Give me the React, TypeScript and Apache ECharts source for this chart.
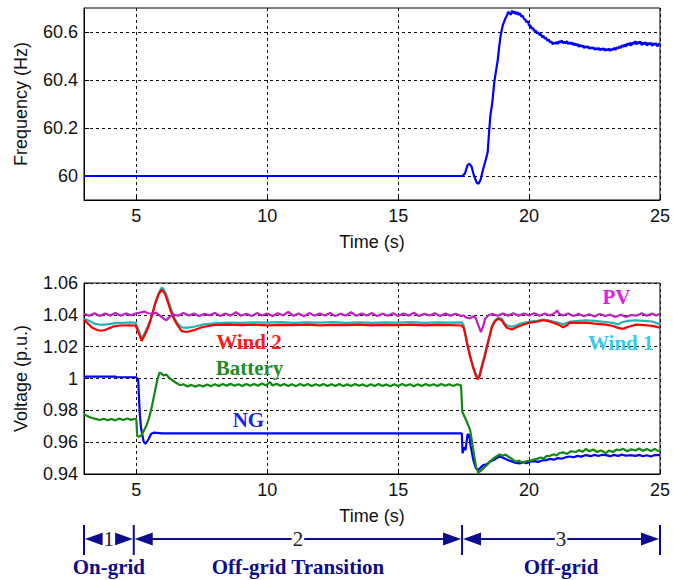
import React, { useEffect, useRef } from "react";
import * as echarts from "echarts";

// ---------- tick values ----------
const timeTicks = [5, 10, 15, 20, 25];
const freqTicks = [60, 60.2, 60.4, 60.6];
const voltTicks = [0.94, 0.96, 0.98, 1, 1.02, 1.04, 1.06];

// ---------- frequency (Hz) ----------
const frequency: [number, number][] = [
  [3, 60], [17.45, 60], [17.55, 60.01], [17.65, 60.045], [17.72, 60.051], [17.8, 60.04], [17.9, 60.0],
  [18.0, 59.972], [18.07, 59.968], [18.15, 59.985], [18.25, 60.03], [18.35, 60.07], [18.42, 60.1],
  [18.47, 60.18], [18.52, 60.25], [18.6, 60.31], [18.67, 60.39], [18.74, 60.44], [18.8, 60.48],
  [18.86, 60.54], [18.92, 60.59], [19.0, 60.63], [19.09, 60.655], [19.16, 60.67], [19.2, 60.684],
  [19.3, 60.672], [19.35, 60.689], [19.4, 60.678], [19.45, 60.686], [19.5, 60.674], [19.55, 60.683],
  [19.6, 60.671], [19.65, 60.679], [19.7, 60.664], [19.75, 60.668], [19.8, 60.656], [19.85, 60.652],
  [19.9, 60.641], [19.95, 60.645], [20.0, 60.626], [20.05, 60.628], [20.1, 60.613], [20.15, 60.617],
  [20.2, 60.604], [20.25, 60.606], [20.3, 60.594], [20.35, 60.599], [20.4, 60.587], [20.45, 60.592],
  [20.5, 60.578], [20.55, 60.584], [20.6, 60.572], [20.65, 60.576], [20.7, 60.563], [20.75, 60.569],
  [20.8, 60.556], [20.85, 60.561], [20.9, 60.549], [20.95, 60.556], [21.0, 60.551], [21.05, 60.559],
  [21.1, 60.55], [21.15, 60.561], [21.2, 60.556], [21.25, 60.565], [21.3, 60.553], [21.35, 60.56],
  [21.4, 60.552], [21.45, 60.562], [21.5, 60.549], [21.55, 60.557], [21.6, 60.55], [21.65, 60.556],
  [21.7, 60.545], [21.75, 60.553], [21.8, 60.544], [21.85, 60.55], [21.9, 60.538], [21.95, 60.546],
  [22.0, 60.539], [22.05, 60.544], [22.1, 60.533], [22.15, 60.541], [22.2, 60.535], [22.25, 60.54],
  [22.3, 60.53], [22.35, 60.537], [22.4, 60.531], [22.45, 60.537], [22.5, 60.526], [22.55, 60.533],
  [22.6, 60.527], [22.65, 60.534], [22.7, 60.524], [22.75, 60.531], [22.8, 60.526], [22.85, 60.532],
  [22.9, 60.522], [22.95, 60.529], [23.0, 60.524], [23.05, 60.531], [23.1, 60.521], [23.15, 60.529],
  [23.2, 60.526], [23.25, 60.534], [23.3, 60.525], [23.35, 60.536], [23.4, 60.531], [23.45, 60.54],
  [23.5, 60.533], [23.55, 60.545], [23.6, 60.538], [23.65, 60.548], [23.7, 60.539], [23.75, 60.553],
  [23.8, 60.545], [23.85, 60.555], [23.9, 60.543], [23.95, 60.557], [24.0, 60.55], [24.05, 60.562],
  [24.1, 60.548], [24.15, 60.559], [24.2, 60.552], [24.25, 60.561], [24.3, 60.545], [24.35, 60.556],
  [24.4, 60.549], [24.45, 60.558], [24.5, 60.543], [24.55, 60.555], [24.6, 60.547], [24.65, 60.556],
  [24.7, 60.542], [24.75, 60.553], [24.8, 60.546], [24.85, 60.554], [24.9, 60.54], [24.95, 60.551],
  [25.0, 60.546],
];

// ---------- voltages (p.u.) ----------
const pv: [number, number][] = [
  [3, 1.0407], [3.2, 1.0394], [3.4, 1.041], [3.6, 1.0393], [3.8, 1.0408], [4.0, 1.0396], [4.2, 1.0412],
  [4.4, 1.0394], [4.6, 1.0409], [4.8, 1.0397], [5.0, 1.041], [5.15, 1.0414], [5.3, 1.0421], [5.45, 1.041],
  [5.6, 1.0407], [5.75, 1.0414], [5.9, 1.0395], [6.05, 1.0375], [6.15, 1.0366], [6.25, 1.0385],
  [6.4, 1.0403], [6.6, 1.0394], [6.8, 1.0411], [7.0, 1.0396], [7.2, 1.0409], [7.4, 1.0393], [7.6, 1.0406],
  [7.8, 1.0397], [8.0, 1.0412], [8.2, 1.0392], [8.4, 1.0408], [8.6, 1.0395], [8.8, 1.0416], [9.0, 1.0394],
  [9.2, 1.0407], [9.4, 1.0392], [9.6, 1.0411], [9.8, 1.0396], [10.0, 1.0409], [10.2, 1.0393], [10.4, 1.041],
  [10.6, 1.0397], [10.8, 1.0418], [11.0, 1.0394], [11.2, 1.0408], [11.4, 1.0391], [11.6, 1.0411],
  [11.8, 1.0395], [12.0, 1.0409], [12.2, 1.0396], [12.4, 1.0412], [12.6, 1.0392], [12.8, 1.0407],
  [13.0, 1.0395], [13.2, 1.0416], [13.4, 1.0394], [13.6, 1.0409], [13.8, 1.0396], [14.0, 1.0411],
  [14.2, 1.0392], [14.4, 1.0407], [14.6, 1.0395], [14.8, 1.041], [15.0, 1.0393], [15.2, 1.0409],
  [15.4, 1.0395], [15.6, 1.0413], [15.8, 1.0392], [16.0, 1.0407], [16.2, 1.0396], [16.4, 1.041],
  [16.6, 1.0393], [16.8, 1.0409], [17.0, 1.0395], [17.2, 1.0407], [17.4, 1.0393], [17.5, 1.0396],
  [17.6, 1.0383], [17.75, 1.0378], [17.85, 1.039], [17.95, 1.0384], [18.05, 1.034], [18.16, 1.0292],
  [18.25, 1.033], [18.32, 1.0375], [18.45, 1.0397], [18.6, 1.0405], [18.8, 1.0394], [19.0, 1.0409],
  [19.2, 1.0395], [19.4, 1.041], [19.6, 1.0394], [19.8, 1.0408], [20.0, 1.0396], [20.2, 1.041],
  [20.4, 1.0394], [20.6, 1.0408], [20.8, 1.0396], [21.0, 1.0414], [21.07, 1.0428], [21.15, 1.0407],
  [21.3, 1.0396], [21.5, 1.0408], [21.7, 1.0393], [21.9, 1.0406], [22.1, 1.0391], [22.3, 1.0404],
  [22.5, 1.039], [22.7, 1.0405], [22.9, 1.0393], [23.1, 1.0401], [23.3, 1.0387], [23.5, 1.04],
  [23.7, 1.0386], [23.9, 1.0399], [24.1, 1.0395], [24.3, 1.041], [24.5, 1.0394], [24.7, 1.0408],
  [24.85, 1.0395], [25, 1.0407],
];

const wind1: [number, number][] = [
  [3, 1.0375], [3.2, 1.0362], [3.4, 1.0345], [3.6, 1.0338], [3.8, 1.0338], [4.0, 1.0343], [4.2, 1.0348],
  [4.5, 1.035], [4.8, 1.0352], [4.97, 1.035], [5.08, 1.0305], [5.2, 1.025], [5.32, 1.0285], [5.45, 1.0335],
  [5.55, 1.037], [5.72, 1.0475], [5.85, 1.0535], [5.97, 1.0572], [6.05, 1.056], [6.15, 1.0525],
  [6.3, 1.045], [6.45, 1.038], [6.58, 1.0345], [6.73, 1.0322], [6.9, 1.0318], [7.2, 1.0325],
  [7.5, 1.0338], [8.0, 1.0347], [8.5, 1.0351], [9.0, 1.0349], [9.5, 1.0353], [10, 1.0351], [10.5, 1.0354],
  [11, 1.035], [11.5, 1.0353], [12, 1.0351], [12.5, 1.0354], [13, 1.035], [13.5, 1.0352], [14, 1.0349],
  [14.5, 1.0353], [15, 1.0351], [15.5, 1.0354], [16, 1.035], [16.5, 1.0352], [17, 1.0351], [17.43, 1.0352],
  [17.5, 1.0335], [17.56, 1.0285], [17.65, 1.021], [17.75, 1.0145], [17.85, 1.0085], [17.94, 1.004],
  [18.03, 1.0006], [18.1, 1.002], [18.2, 1.0085], [18.3, 1.0145], [18.39, 1.0205], [18.5, 1.0275],
  [18.58, 1.033], [18.7, 1.0365], [18.83, 1.0382], [18.96, 1.0375], [19.05, 1.035], [19.15, 1.0335],
  [19.34, 1.0325], [19.5, 1.0332], [19.66, 1.0345], [19.85, 1.0352], [20.04, 1.0358], [20.3, 1.0362],
  [20.54, 1.037], [20.75, 1.0365], [20.92, 1.0358], [21.1, 1.0352], [21.3, 1.034], [21.45, 1.035],
  [21.6, 1.0357], [21.9, 1.0362], [22.18, 1.0366], [22.5, 1.0362], [22.94, 1.0355], [23.2, 1.035],
  [23.4, 1.034], [23.57, 1.0355], [23.8, 1.0362], [24.07, 1.0366], [24.4, 1.0362], [24.7, 1.0358],
  [25, 1.034],
];

const wind2: [number, number][] = [
  [3, 1.0368], [3.15, 1.0345], [3.3, 1.032], [3.5, 1.0305], [3.65, 1.03], [3.8, 1.0305], [4.0, 1.0318],
  [4.14, 1.0328], [4.4, 1.0333], [4.7, 1.0334], [4.97, 1.0333], [5.08, 1.029], [5.2, 1.0236], [5.34, 1.028],
  [5.45, 1.032], [5.53, 1.036], [5.72, 1.047], [5.85, 1.053], [5.97, 1.0558], [6.1, 1.053], [6.29, 1.0435],
  [6.42, 1.038], [6.55, 1.034], [6.73, 1.0298], [6.92, 1.0292], [7.17, 1.0302], [7.5, 1.0322],
  [7.93, 1.0335], [8.5, 1.0338], [9, 1.0335], [9.5, 1.0338], [10, 1.0334], [10.5, 1.0337], [11, 1.0335],
  [11.5, 1.0338], [12, 1.0334], [12.5, 1.0337], [13, 1.0335], [13.5, 1.0338], [14, 1.0334], [14.5, 1.0337],
  [15, 1.0335], [15.5, 1.0338], [16, 1.0334], [16.5, 1.0337], [17, 1.0335], [17.43, 1.0333],
  [17.5, 1.0318], [17.56, 1.028], [17.65, 1.0205], [17.75, 1.0135], [17.85, 1.0075], [17.94, 1.0031],
  [18.03, 0.9994], [18.1, 1.001], [18.2, 1.0073], [18.3, 1.0135], [18.39, 1.0198], [18.5, 1.027],
  [18.58, 1.0324], [18.7, 1.036], [18.83, 1.0376], [18.96, 1.0365], [19.05, 1.034], [19.15, 1.0319],
  [19.34, 1.0308], [19.5, 1.032], [19.66, 1.0331], [19.85, 1.0342], [20.04, 1.0351], [20.3, 1.0358],
  [20.54, 1.0366], [20.75, 1.036], [20.92, 1.0351], [21.1, 1.034], [21.3, 1.0322], [21.45, 1.0335],
  [21.55, 1.0351], [21.9, 1.0349], [22.18, 1.0351], [22.5, 1.0345], [22.94, 1.0338], [23.2, 1.033],
  [23.4, 1.0318], [23.57, 1.0312], [23.8, 1.0325], [24.07, 1.0338], [24.4, 1.0335], [24.7, 1.0331],
  [25, 1.032],
];

const battery: [number, number][] = [
  [3, 0.9775], [3.15, 0.9762], [3.3, 0.9752], [3.45, 0.9746], [3.6, 0.9739], [3.75, 0.9747], [3.9, 0.9738],
  [4.05, 0.9746], [4.2, 0.9737], [4.35, 0.9748], [4.5, 0.9739], [4.65, 0.9749], [4.8, 0.974],
  [4.95, 0.9747], [5.0, 0.9742], [5.03, 0.964], [5.1, 0.9634], [5.18, 0.9642], [5.25, 0.966], [5.4, 0.971],
  [5.5, 0.976], [5.6, 0.983], [5.72, 0.9927], [5.8, 0.999], [5.88, 1.0035], [5.95, 1.0032], [6.03, 1.002],
  [6.15, 1.0024], [6.25, 1.0005], [6.35, 0.9992], [6.5, 0.9975], [6.67, 0.9958], [6.8, 0.9964],
  [6.95, 0.995], [7.1, 0.996], [7.25, 0.9948], [7.4, 0.9959], [7.55, 0.995], [7.7, 0.9962], [7.85, 0.9952],
  [8.0, 0.9964], [8.15, 0.9953], [8.3, 0.9965], [8.45, 0.9954], [8.6, 0.9967], [8.75, 0.9955], [8.9, 0.9964],
  [9.05, 0.9953], [9.2, 0.9966], [9.35, 0.9954], [9.5, 0.9965], [9.65, 0.9955], [9.8, 0.9968],
  [9.95, 0.9956], [10.1, 0.9978], [10.2, 0.9956], [10.35, 0.9967], [10.5, 0.9954], [10.65, 0.9965],
  [10.8, 0.9953], [10.95, 0.9964], [11.1, 0.9952], [11.25, 0.9965], [11.4, 0.9954], [11.55, 0.9966],
  [11.7, 0.9953], [11.85, 0.9964], [12.0, 0.9954], [12.15, 0.9966], [12.3, 0.9953], [12.45, 0.9964],
  [12.6, 0.9953], [12.75, 0.9965], [12.9, 0.9952], [13.05, 0.9964], [13.2, 0.9953], [13.35, 0.9965],
  [13.5, 0.9954], [13.65, 0.9963], [13.8, 0.9952], [13.95, 0.9964], [14.1, 0.9953], [14.25, 0.9965],
  [14.4, 0.9953], [14.55, 0.9963], [14.7, 0.9952], [14.85, 0.9964], [15.0, 0.9953], [15.15, 0.9965],
  [15.3, 0.9954], [15.45, 0.9964], [15.6, 0.9952], [15.75, 0.9964], [15.9, 0.9953], [16.05, 0.9965],
  [16.2, 0.9954], [16.35, 0.9964], [16.5, 0.9953], [16.65, 0.9965], [16.8, 0.9954], [16.95, 0.9964],
  [17.1, 0.9953], [17.25, 0.9964], [17.4, 0.9957], [17.45, 0.979], [17.6, 0.9738], [17.75, 0.9676],
  [17.87, 0.955], [17.97, 0.9446], [18.06, 0.9408], [18.15, 0.942], [18.25, 0.9435], [18.38, 0.9455],
  [18.5, 0.9477], [18.62, 0.9495], [18.75, 0.951], [18.88, 0.9522], [19.0, 0.9515], [19.1, 0.9522],
  [19.2, 0.951], [19.32, 0.9498], [19.42, 0.9485], [19.51, 0.9477], [19.62, 0.9484], [19.75, 0.947],
  [19.89, 0.948], [20.0, 0.9482], [20.15, 0.9489], [20.3, 0.9495], [20.45, 0.9504], [20.55, 0.9495],
  [20.66, 0.9512], [20.8, 0.9514], [20.95, 0.9524], [21.05, 0.9516], [21.16, 0.9532], [21.3, 0.9536],
  [21.45, 0.9526], [21.6, 0.9543], [21.79, 0.9538], [21.9, 0.955], [22.05, 0.954], [22.17, 0.9558],
  [22.3, 0.9543], [22.45, 0.9554], [22.6, 0.9538], [22.75, 0.9548], [22.93, 0.9531], [23.05, 0.9547],
  [23.2, 0.9538], [23.35, 0.9554], [23.44, 0.9549], [23.6, 0.9558], [23.75, 0.9543], [23.9, 0.9555],
  [24.07, 0.9548], [24.2, 0.956], [24.35, 0.9546], [24.5, 0.9557], [24.65, 0.9544], [24.8, 0.9558],
  [24.9, 0.9547], [25, 0.9546],
];

const ng: [number, number][] = [
  [3, 1.0012], [4.2, 1.0012], [4.25, 1.0008], [5.0, 1.0008], [5.07, 0.999], [5.13, 0.978], [5.18, 0.9687],
  [5.28, 0.9602], [5.35, 0.959], [5.47, 0.962], [5.56, 0.9651], [5.66, 0.966], [6, 0.9655], [17.43, 0.9655],
  [17.46, 0.953], [17.52, 0.957], [17.57, 0.955], [17.65, 0.9649], [17.71, 0.9645], [17.77, 0.9575],
  [17.87, 0.9488], [17.97, 0.9435], [18.06, 0.9425], [18.15, 0.944], [18.25, 0.9456], [18.38, 0.946],
  [18.5, 0.9477], [18.65, 0.9488], [18.75, 0.9498], [18.88, 0.951], [19.0, 0.9502], [19.1, 0.9495],
  [19.2, 0.9487], [19.35, 0.9478], [19.5, 0.947], [19.64, 0.9467], [19.8, 0.9474], [19.9, 0.9468],
  [20.04, 0.9477], [20.2, 0.9481], [20.35, 0.9476], [20.5, 0.9485], [20.66, 0.9487], [20.8, 0.9495],
  [20.95, 0.949], [21.1, 0.95], [21.25, 0.9496], [21.4, 0.9505], [21.55, 0.951], [21.7, 0.9505],
  [21.85, 0.9514], [22.0, 0.9509], [22.17, 0.9519], [22.35, 0.9512], [22.5, 0.952], [22.65, 0.9513],
  [22.8, 0.9521], [22.93, 0.9519], [23.1, 0.9512], [23.25, 0.952], [23.4, 0.9514], [23.55, 0.9522],
  [23.7, 0.9515], [23.85, 0.9518], [24.07, 0.9514], [24.2, 0.952], [24.35, 0.9512], [24.5, 0.9518],
  [24.65, 0.951], [24.8, 0.9519], [25, 0.9518],
];

// ---------- curve labels (data coordinates) ----------
const curveLabels = [
  { text: "PV", t: 23.34, v: 1.051, color: "#e020e0" },
  { text: "Wind 2", t: 9.3, v: 1.0228, color: "#ff1a1a" },
  { text: "Wind 1", t: 23.5, v: 1.0221, color: "#33ccee" },
  { text: "Battery", t: 9.32, v: 1.0065, color: "#228b22" },
  { text: "NG", t: 9.28, v: 0.9739, color: "#2020ee" },
];

// ---------- operating phases ----------
const phaseBounds = [3, 4.9, 17.44, 25];
const phaseNumbers = ["1", "2", "3"];
const phaseNames = ["On-grid", "Off-grid Transition", "Off-grid"];

const SANS = "'Liberation Sans', Arial, sans-serif";
const SERIF = "'Liberation Serif', 'Times New Roman', serif";
const NAVY = "#0c0c8c";

function makeXAxis(gridIndex: number) {
  return {
    type: "value",
    gridIndex,
    min: 3,
    max: 25,
    name: "Time (s)",
    nameLocation: "middle",
    nameGap: 33,
    nameTextStyle: { fontFamily: SANS, fontSize: 18, color: "#111" },
    axisLine: { show: true, onZero: false, lineStyle: { color: "#000", width: 1 } },
    axisTick: { show: true, inside: true, length: 5, customValues: timeTicks, lineStyle: { color: "#000" } },
    axisLabel: { customValues: timeTicks, margin: 7, fontFamily: SANS, fontSize: 18, color: "#111" },
    splitLine: { show: true, lineStyle: { color: "#111", type: [3, 3], width: 1 } },
  };
}

function makeYAxis(gridIndex: number, name: string, min: number, max: number, ticks: number[]) {
  return {
    type: "value",
    gridIndex,
    min,
    max,
    name,
    nameLocation: "middle",
    nameGap: 54,
    nameTextStyle: { fontFamily: SANS, fontSize: 18, color: "#111" },
    axisLine: { show: true, onZero: false, lineStyle: { color: "#000", width: 1 } },
    axisTick: { show: true, inside: true, length: 5, customValues: ticks, lineStyle: { color: "#000" } },
    axisLabel: { customValues: ticks, margin: 6, fontFamily: SANS, fontSize: 18, color: "#111" },
    splitLine: { show: true, lineStyle: { color: "#111", type: [3, 3], width: 1 } },
  };
}

function lineSeries(name: string, data: [number, number][], color: string, axis: number) {
  return {
    name,
    type: "line",
    xAxisIndex: axis,
    yAxisIndex: axis,
    data,
    symbol: "none",
    showSymbol: false,
    lineStyle: { color, width: 2.2 },
    itemStyle: { color },
  };
}

export default function App() {
  const ref = useRef<HTMLDivElement>(null);

  useEffect(() => {
    document.body.style.margin = "0";
    if (!ref.current) return;
    const chart = echarts.init(ref.current, null, { renderer: "svg" });
    chart.setOption({
      animation: false,
      backgroundColor: "#ffffff",
      grid: [
        { left: 84, top: 8, width: 578, height: 192, show: true, borderColor: "#000", borderWidth: 1, backgroundColor: "transparent" },
        { left: 84, top: 283, width: 578, height: 191, show: true, borderColor: "#000", borderWidth: 1, backgroundColor: "transparent" },
      ],
      xAxis: [makeXAxis(0), makeXAxis(1)],
      yAxis: [
        makeYAxis(0, "Frequency (Hz)", 59.9, 60.7, freqTicks),
        makeYAxis(1, "Voltage (p.u.)", 0.94, 1.06, voltTicks),
      ],
      series: [
        lineSeries("Frequency", frequency, "#0000ff", 0),
        lineSeries("NG", ng, "#0000ff", 1),
        lineSeries("Battery", battery, "#118811", 1),
        lineSeries("Wind 1", wind1, "#22b4b4", 1),
        lineSeries("Wind 2", wind2, "#ff0000", 1),
        lineSeries("PV", pv, "#c020c0", 1),
      ],
    });

    // graphics positioned through the axis scales
    const px = (t: number) => chart.convertToPixel({ xAxisIndex: 1 }, t) as number;
    const pt = (t: number, v: number) => chart.convertToPixel({ gridIndex: 1 }, [t, v]) as number[];
    const graphics: any[] = [];

    curveLabels.forEach((l) => {
      const [x, y] = pt(l.t, l.v);
      graphics.push({
        type: "text",
        x,
        y,
        z: 100,
        style: {
          text: l.text,
          fill: l.color,
          font: `bold 21px ${SERIF}`,
          align: "center",
          verticalAlign: "middle",
        },
      });
    });

    const yLine = 539;
    const yTop = 525;
    const yBot = 555;
    const arrowLen = 18;
    const arrowHalf = 6.5;
    phaseBounds.forEach((b) => {
      const x = px(b);
      graphics.push({
        type: "line",
        shape: { x1: x, y1: yTop, x2: x, y2: yBot },
        style: { stroke: NAVY, lineWidth: 2 },
      });
    });
    for (let i = 0; i < phaseBounds.length - 1; i++) {
      const a = px(phaseBounds[i]);
      const b = px(phaseBounds[i + 1]);
      const mid = (a + b) / 2;
      graphics.push({
        type: "line",
        shape: { x1: a + 4, y1: yLine, x2: b - 4, y2: yLine },
        style: { stroke: NAVY, lineWidth: 2 },
      });
      graphics.push({
        type: "polygon",
        shape: { points: [[a + 1, yLine], [a + 1 + arrowLen, yLine - arrowHalf], [a + 1 + arrowLen, yLine + arrowHalf]] },
        style: { fill: NAVY },
      });
      graphics.push({
        type: "polygon",
        shape: { points: [[b - 1, yLine], [b - 1 - arrowLen, yLine - arrowHalf], [b - 1 - arrowLen, yLine + arrowHalf]] },
        style: { fill: NAVY },
      });
      graphics.push({
        type: "text",
        x: mid,
        y: yLine,
        z: 10,
        style: {
          text: phaseNumbers[i],
          fill: "#222",
          font: `21px ${SERIF}`,
          align: "center",
          verticalAlign: "middle",
          backgroundColor: "#fff",
          padding: [0, 1],
        },
      });
      graphics.push({
        type: "text",
        x: mid,
        y: 567,
        style: {
          text: phaseNames[i],
          fill: NAVY,
          font: `bold 21px ${SERIF}`,
          align: "center",
          verticalAlign: "middle",
        },
      });
    }

    chart.setOption({ graphic: graphics });

    return () => chart.dispose();
  }, []);

  return <div ref={ref} style={{ width: 673, height: 580 }} />;
}
